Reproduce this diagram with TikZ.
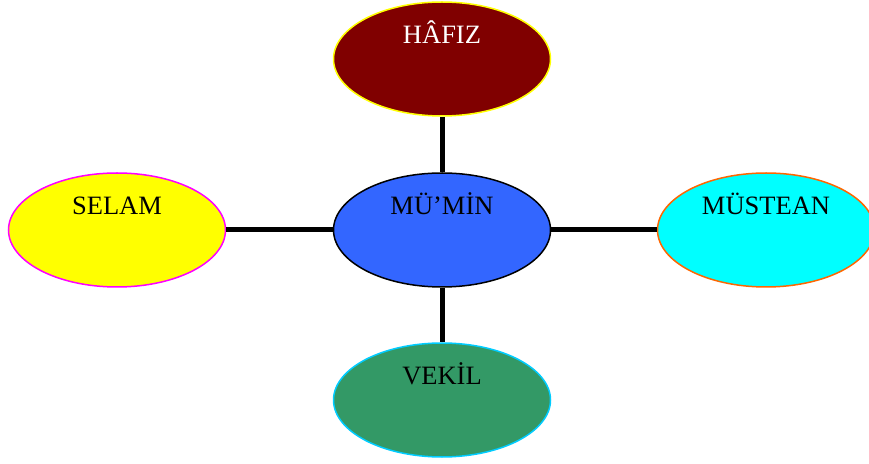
\documentclass[tikz,border=0pt]{standalone}
\usepackage{fontspec}
\setmainfont{Liberation Serif}
\usetikzlibrary{shapes.geometric}
\definecolor{hafizred}{HTML}{800000}
\definecolor{hafizline}{HTML}{FFFF00}
\definecolor{muminblue}{HTML}{3366FF}
\definecolor{selamyellow}{HTML}{FFFF00}
\definecolor{selamline}{HTML}{FF00FF}
\definecolor{musteancyan}{HTML}{00FFFF}
\definecolor{musteanline}{HTML}{FF6600}
\definecolor{vekilgreen}{HTML}{339966}
\definecolor{vekilline}{HTML}{00CCFF}

\begin{document}
\begin{tikzpicture}[x=1pt, y=1pt]
	\tikzstyle{oval} = [ellipse, minimum width=217pt, minimum height=114pt, inner sep=0pt, line width=1.5pt]
	\tikzstyle{word} = [anchor=base, inner sep=0pt, font=\fontsize{26.5}{32}\selectfont]
	\useasboundingbox (0,0) rectangle (869,463);
	\node[oval, draw=hafizline, fill=hafizred] (hafiz) at (442, 404) {};
	\node[oval, draw=black, fill=muminblue] (mumin) at (442, 233) {};
	\node[oval, draw=selamline, fill=selamyellow] (selam) at (117, 233) {};
	\node[oval, draw=musteanline, fill=musteancyan] (mustean) at (766, 233) {};
	\node[oval, draw=vekilline, fill=vekilgreen] (vekil) at (442, 63) {};
	\node[word, text=white] (hafiztext) at ([yshift=15.5pt]hafiz.center) {HÂFIZ};
	\node[word] (mumintext) at ([yshift=15.5pt]mumin.center) {MÜ’MİN};
	\node[word] (selamtext) at ([yshift=15.5pt]selam.center) {SELAM};
	\node[word] (musteantext) at ([yshift=15.5pt]mustean.center) {MÜSTEAN};
	\node[word] (vekiltext) at ([yshift=15.5pt]vekil.center) {VEKİL};
	\draw [line width=5pt] (mumin)--(hafiz);
	\draw [line width=5pt] (mumin)--(selam);
	\draw [line width=5pt] (mumin)--(mustean);
	\draw [line width=5pt] (mumin)--(vekil);
\end{tikzpicture}
\end{document}
